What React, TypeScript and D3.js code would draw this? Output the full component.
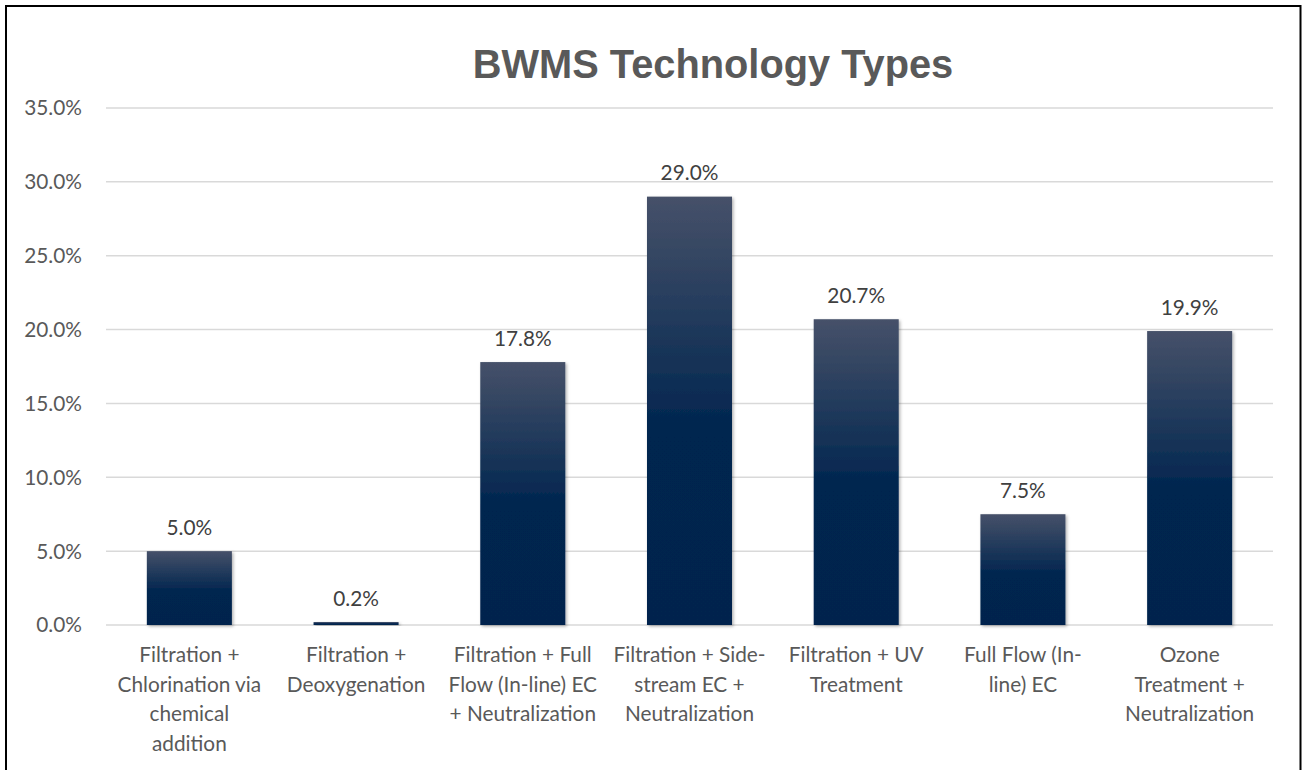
import React from "react";
import * as d3 from "d3";

const categories: string[][] = [
  ["Filtration +", "Chlorination via", "chemical", "addition"],
  ["Filtration +", "Deoxygenation"],
  ["Filtration + Full", "Flow (In-line) EC", "+ Neutralization"],
  ["Filtration + Side-", "stream EC +", "Neutralization"],
  ["Filtration + UV", "Treatment"],
  ["Full Flow (In-", "line) EC"],
  ["Ozone", "Treatment +", "Neutralization"],
];
const values: number[] = [5.0, 0.2, 17.8, 29.0, 20.7, 7.5, 19.9];
const yTicks: number[] = [0, 5, 10, 15, 20, 25, 30, 35];
const title = "BWMS Technology Types";

const W = 1304;
const H = 770;
const FONT = "Lato, 'Open Sans', sans-serif";
const GREY = "#595959";
const FS = 20.8;

export default function App() {
  const x = d3
    .scaleBand<number>()
    .domain(d3.range(values.length))
    .range([106, 1273])
    .paddingInner(0.49)
    .paddingOuter(0.245);
  const y = d3.scaleLinear().domain([0, 35]).range([625, 108]);

  return (
    <svg
      width={W}
      height={H}
      style={{ position: "absolute", left: 0, top: 0, background: "#fff" }}
    >
      <defs>
        <linearGradient id="barGrad" x1="0" y1="0" x2="0" y2="1">
          <stop offset="0" stopColor="#465169" />
          <stop offset="0.55" stopColor="#00254f" />
          <stop offset="1" stopColor="#00244d" />
        </linearGradient>
        <filter id="shadow" x="-20%" y="-5%" width="140%" height="115%">
          <feDropShadow dx="1.5" dy="1.5" stdDeviation="1.5" floodColor="#000" floodOpacity="0.3" />
        </filter>
      </defs>
      <rect x={0} y={0} width={W} height={H} fill="#fff" />
      <rect x={6} y={6} width={1294.5} height={H + 10} fill="none" stroke="#000" strokeWidth={2} />
      <text
        x={713}
        y={78}
        textAnchor="middle"
        fontFamily="'Liberation Sans', Arial, sans-serif"
        fontWeight="bold"
        fontSize={39.8}
        fill={GREY}
      >
        {title}
      </text>
      {yTicks.map((t) => (
        <g key={t}>
          <line x1={106} x2={1273} y1={y(t)} y2={y(t)} stroke="#d9d9d9" strokeWidth={1.5} />
          <text
            x={82}
            y={y(t)}
            dy="0.36em"
            textAnchor="end"
            fontFamily={FONT}
            fontSize={FS}
            fill={GREY}
          >
            {t.toFixed(1) + "%"}
          </text>
        </g>
      ))}
      {values.map((v, i) => {
        const bx = x(i)!;
        const bw = x.bandwidth();
        const top = y(v);
        return (
          <g key={i}>
            <rect
              x={bx}
              y={top}
              width={bw}
              height={y(0) - top}
              fill="url(#barGrad)"
              filter="url(#shadow)"
            />
            <text
              x={bx + bw / 2}
              y={top - 24}
              dy="0.36em"
              textAnchor="middle"
              fontFamily={FONT}
              fontSize={FS}
              fill="#404040"
            >
              {v.toFixed(1) + "%"}
            </text>
            <text
              textAnchor="middle"
              fontFamily={FONT}
              fontSize={FS}
              fill={GREY}
            >
              {categories[i].map((line, j) => (
                <tspan key={j} x={bx + bw / 2} y={655 + j * 29.5} dy="0.36em">
                  {line}
                </tspan>
              ))}
            </text>
          </g>
        );
      })}
    </svg>
  );
}
